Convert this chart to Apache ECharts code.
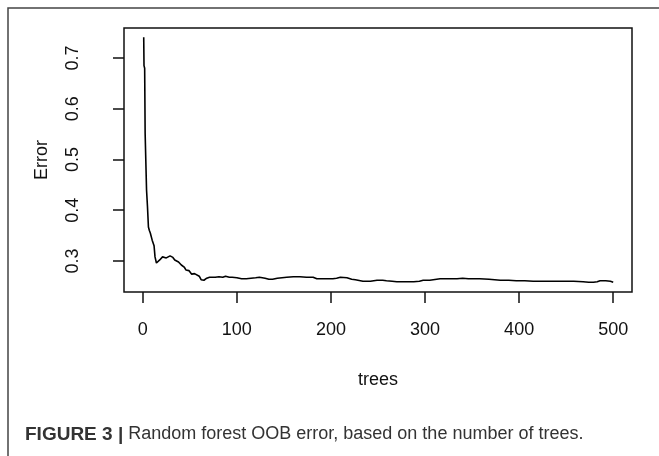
<!DOCTYPE html>
<html>
<head>
<meta charset="utf-8">
<script src="https://cdn.jsdelivr.net/npm/echarts@6/dist/echarts.min.js"></script>
<style>
    html, body { margin: 0; padding: 0; background: #fff; }
    #chart { width: 659px; height: 456px; }
</style>
</head>
<body>
<div id="chart"></div>
<script>
// number of trees (x) and OOB error (y)
var trees = [1, 1.3, 2, 2.5, 4, 5, 6, 7, 8, 10, 12, 13, 14.5, 16, 18, 21, 25, 29, 32, 34, 38, 41, 44, 46, 49, 52, 55, 57, 60, 62, 65, 68, 71, 73, 77, 81, 85, 88, 92, 95, 100, 105, 110, 115, 120, 124, 130, 134, 138, 143, 148, 153, 160, 167, 174, 181, 185, 193, 202, 206, 210, 217, 222, 226, 234, 242, 249, 255, 259, 265, 270, 280, 288, 294, 298, 305, 316, 324, 334, 340, 346, 358, 368, 380, 389, 397, 406, 415, 425, 436, 447, 458, 468, 474, 479, 483, 486, 492, 497, 500];
var oobError = [0.741, 0.685, 0.68, 0.552, 0.44, 0.407, 0.367, 0.36, 0.355, 0.341, 0.33, 0.308, 0.296, 0.296, 0.302, 0.308, 0.306, 0.31, 0.307, 0.302, 0.298, 0.292, 0.288, 0.282, 0.281, 0.274, 0.275, 0.276, 0.27, 0.263, 0.262, 0.266, 0.268, 0.27, 0.268, 0.269, 0.268, 0.27, 0.268, 0.268, 0.267, 0.265, 0.265, 0.266, 0.267, 0.268, 0.266, 0.264, 0.264, 0.266, 0.267, 0.268, 0.269, 0.269, 0.268, 0.268, 0.265, 0.265, 0.265, 0.266, 0.268, 0.267, 0.264, 0.263, 0.26, 0.26, 0.262, 0.262, 0.261, 0.26, 0.259, 0.259, 0.259, 0.26, 0.262, 0.262, 0.265, 0.265, 0.265, 0.266, 0.265, 0.265, 0.264, 0.262, 0.262, 0.261, 0.261, 0.26, 0.26, 0.26, 0.26, 0.26, 0.259, 0.258, 0.258, 0.259, 0.261, 0.261, 0.26, 0.258];
var xTicks = [0, 100, 200, 300, 400, 500];
var yTicks = [0.3, 0.4, 0.5, 0.6, 0.7];

var points = trees.map(function (t, i) { return [t, oobError[i]]; });

var chart = echarts.init(document.getElementById('chart'));
var option = {
    animation: false,
    textStyle: { fontFamily: 'Liberation Sans, Arial, sans-serif' },
    title: {
        left: 25,
        top: 425,
        padding: 0,
        text: '{b|FIGURE 3 |} Random forest OOB error, based on the number of trees.',
        textStyle: {
            fontSize: 18,
            fontWeight: 'normal',
            color: '#333',
            rich: {
                b: { fontSize: 19, fontWeight: 'bold', color: '#333' }
            }
        }
    },
    graphic: [
        {
            type: 'polyline',
            shape: { points: [[8, 456], [8, 8], [659, 8]] },
            style: { stroke: '#444', lineWidth: 1.5, fill: null }
        }
    ],
    grid: {
        left: 124,
        top: 28,
        right: 27,
        bottom: 164,
        containLabel: false,
        outerBoundsMode: 'none',
        show: true,
        borderColor: '#111',
        borderWidth: 1.5
    },
    xAxis: {
        type: 'value',
        min: -19.96,
        max: 519.96,
        name: 'trees',
        nameLocation: 'middle',
        nameGap: 79,
        nameTextStyle: { fontSize: 18, color: '#111' },
        axisLine: { show: false, onZero: false },
        splitLine: { show: false },
        axisTick: {
            show: true,
            length: 11,
            customValues: xTicks,
            lineStyle: { color: '#111', width: 1.5 }
        },
        axisLabel: {
            customValues: xTicks,
            margin: 29,
            fontSize: 18,
            color: '#111'
        }
    },
    yAxis: {
        type: 'value',
        min: 0.2388,
        max: 0.7592,
        name: 'Error',
        nameLocation: 'middle',
        nameGap: 73,
        nameRotate: 90,
        nameTextStyle: { fontSize: 18, color: '#111' },
        axisLine: { show: false, onZero: false },
        splitLine: { show: false },
        axisTick: {
            show: true,
            length: 11,
            customValues: yTicks,
            lineStyle: { color: '#111', width: 1.5 }
        },
        axisLabel: {
            customValues: yTicks,
            rotate: 90,
            margin: 42,
            fontSize: 18,
            color: '#111',
            formatter: function (v) { return v.toFixed(1); }
        }
    },
    series: [
        {
            type: 'line',
            data: points,
            showSymbol: false,
            lineStyle: { color: '#000', width: 1.6 }
        }
    ]
};
chart.setOption(option);
</script>
</body>
</html>
